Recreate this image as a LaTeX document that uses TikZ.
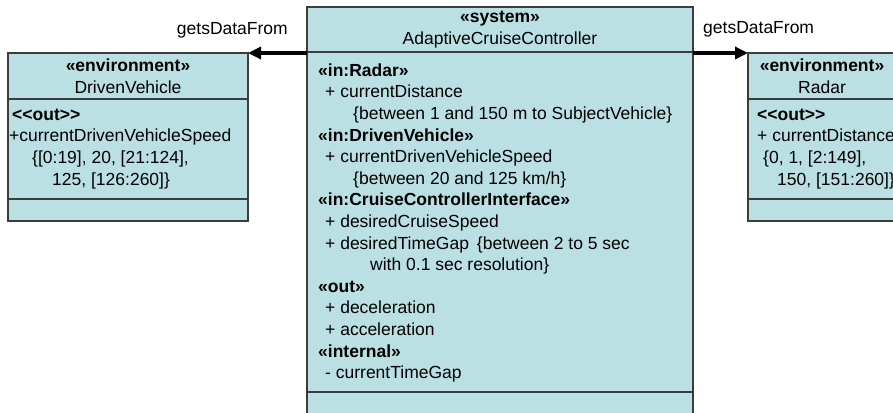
\documentclass[tikz,border=0pt]{standalone}
\usepackage{fontspec}
\setmainfont{Liberation Sans}
\usepackage{tikz}
\usetikzlibrary{arrows.meta, positioning}
\definecolor{umlfill}{RGB}{187,224,227}
\definecolor{umlline}{RGB}{60,60,60}
\newcommand{\umlfont}{\fontsize{17.5pt}{21.6pt}\selectfont}
\tikzset{
  classhead/.style={rectangle, draw=umlline, fill=umlfill, line width=1.2pt,
    minimum width=#1, inner sep=0pt, outer sep=0pt, align=center, font=\umlfont},
  classbody/.style={rectangle, draw=umlline, fill=umlfill, line width=1.2pt,
    minimum width=#1, inner sep=0pt, outer sep=0pt},
  attrtext/.style={inner sep=0pt, align=left, font=\umlfont},
  flowlabel/.style={inner sep=0pt, font=\umlfont},
  dataflow/.style={-{Triangle[length=13pt, width=12pt]}, line width=3.5pt, color=black}
}

\begin{document}
\begin{tikzpicture}[x=1pt, y=-1pt]
  \useasboundingbox (0,0) rectangle (893,412);
  % DrivenVehicle
  \node[classhead=240pt, minimum height=46pt] (dvhead) at (128,76) {\textbf{«environment»}\\DrivenVehicle};
  \node[classbody=240pt, minimum height=100pt, below=0pt of dvhead] (dvattr) {};
  \node[classbody=240pt, minimum height=22pt, below=0pt of dvattr] (dvops) {};
  \node[attrtext, below right=6pt and 4pt of dvattr.north west] (dvtext) {%
    \strut\textbf{<{}<out>{}>}\\
    \hspace*{-3pt}+currentDrivenVehicleSpeed\\
    \hspace*{20pt}\{[0:19], 20, [21:124],\\
    \hspace*{40pt}125, [126:260]\}};
  % AdaptiveCruiseController
  \node[classhead=386pt, minimum height=45pt] (acchead) at (500,29.5) {\textbf{«system»}\\AdaptiveCruiseController};
  \node[classbody=386pt, minimum height=340pt, below=0pt of acchead] (accattr) {};
  \node[classbody=386pt, minimum height=22pt, below=0pt of accattr] (accops) {};
  \node[attrtext, below right=9pt and 11pt of accattr.north west] (acctext) {%
    \strut\textbf{«in:Radar»}\\
    \hspace*{7pt}+ currentDistance\\
    \hspace*{35pt}\{between 1 and 150 m to SubjectVehicle\}\\
    \textbf{«in:DrivenVehicle»}\\
    \hspace*{7pt}+ currentDrivenVehicleSpeed\\
    \hspace*{35pt}\{between 20 and 125 km/h\}\\
    \textbf{«in:CruiseControllerInterface»}\\
    \hspace*{7pt}+ desiredCruiseSpeed\\
    \hspace*{7pt}+ desiredTimeGap\hspace{8pt}\{between 2 to 5 sec\\
    \hspace*{52pt}with 0.1 sec resolution\}\\
    \textbf{«out»}\\
    \hspace*{7pt}+ deceleration\\
    \hspace*{7pt}+ acceleration\\
    \textbf{«internal»}\\
    \hspace*{7pt}- currentTimeGap};
  % Radar
  \node[classhead=148pt, minimum height=46pt] (rdhead) at (822,76) {\textbf{«environment»}\\Radar};
  \node[classbody=148pt, minimum height=100pt, below=0pt of rdhead] (rdattr) {};
  \node[classbody=148pt, minimum height=22pt, below=0pt of rdattr] (rdops) {};
  \node[attrtext, below right=6pt and 9pt of rdattr.north west] (rdtext) {%
    \strut\textbf{<{}<out>{}>}\\
    + currentDistance\\
    \hspace*{6pt}\{0, 1, [2:149],\\
    \hspace*{20pt}150, [151:260]\}};
  % connectors
  \node[flowlabel, anchor=base east] (lblleft) at (288,35) {getsDataFrom};
  \node[flowlabel, anchor=base west] (lblright) at (703,34) {getsDataFrom};
  \draw[dataflow] (acchead.west |- dvhead.north) -- (dvhead.north east);
  \draw[dataflow] (acchead.east |- rdhead.north) -- (rdhead.north west);
\end{tikzpicture}
\end{document}
